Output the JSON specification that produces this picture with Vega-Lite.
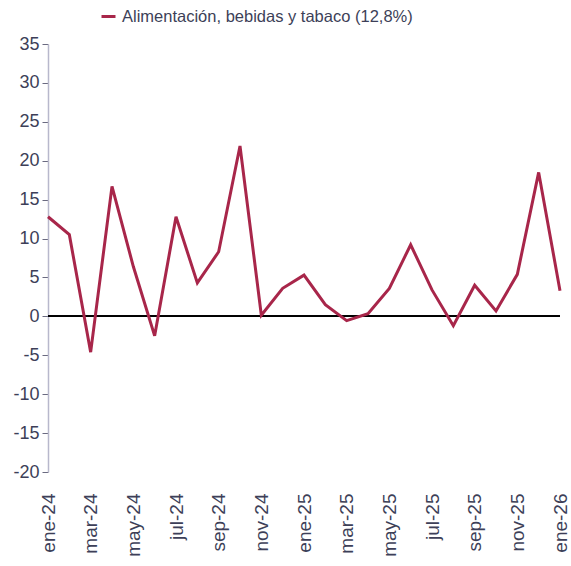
{
  "$schema": "https://vega.github.io/schema/vega-lite/v6.json",
  "width": 512,
  "height": 428,
  "autosize": {"type": "none"},
  "padding": {"left": 48, "top": 44, "right": 11, "bottom": 94},
  "background": "white",
  "config": {
    "view": {"stroke": null},
    "font": "Liberation Sans",
    "axisY": {
      "title": null,
      "values": [-20, -15, -10, -5, 0, 5, 10, 15, 20, 25, 30, 35],
      "labelExpr": "'' + datum.value",
      "labelFontSize": 18,
      "labelColor": "#3d3f58",
      "labelPadding": 3,
      "labelOverlap": false,
      "labelBound": false,
      "domainColor": "#b8b8cc",
      "domainWidth": 1.5,
      "tickColor": "#6a6a80",
      "tickSize": 6,
      "grid": false
    }
  },
  "data": {
    "values": [
      {"mes": "ene-24", "v": 12.8, "serie": "Alimentación, bebidas y tabaco (12,8%)"},
      {"mes": "feb-24", "v": 10.5, "serie": "Alimentación, bebidas y tabaco (12,8%)"},
      {"mes": "mar-24", "v": -4.6, "serie": "Alimentación, bebidas y tabaco (12,8%)"},
      {"mes": "abr-24", "v": 16.7, "serie": "Alimentación, bebidas y tabaco (12,8%)"},
      {"mes": "may-24", "v": 6.4, "serie": "Alimentación, bebidas y tabaco (12,8%)"},
      {"mes": "jun-24", "v": -2.5, "serie": "Alimentación, bebidas y tabaco (12,8%)"},
      {"mes": "jul-24", "v": 12.8, "serie": "Alimentación, bebidas y tabaco (12,8%)"},
      {"mes": "ago-24", "v": 4.3, "serie": "Alimentación, bebidas y tabaco (12,8%)"},
      {"mes": "sep-24", "v": 8.3, "serie": "Alimentación, bebidas y tabaco (12,8%)"},
      {"mes": "oct-24", "v": 21.9, "serie": "Alimentación, bebidas y tabaco (12,8%)"},
      {"mes": "nov-24", "v": 0.15, "serie": "Alimentación, bebidas y tabaco (12,8%)"},
      {"mes": "dic-24", "v": 3.6, "serie": "Alimentación, bebidas y tabaco (12,8%)"},
      {"mes": "ene-25", "v": 5.3, "serie": "Alimentación, bebidas y tabaco (12,8%)"},
      {"mes": "feb-25", "v": 1.5, "serie": "Alimentación, bebidas y tabaco (12,8%)"},
      {"mes": "mar-25", "v": -0.55, "serie": "Alimentación, bebidas y tabaco (12,8%)"},
      {"mes": "abr-25", "v": 0.35, "serie": "Alimentación, bebidas y tabaco (12,8%)"},
      {"mes": "may-25", "v": 3.6, "serie": "Alimentación, bebidas y tabaco (12,8%)"},
      {"mes": "jun-25", "v": 9.2, "serie": "Alimentación, bebidas y tabaco (12,8%)"},
      {"mes": "jul-25", "v": 3.4, "serie": "Alimentación, bebidas y tabaco (12,8%)"},
      {"mes": "ago-25", "v": -1.2, "serie": "Alimentación, bebidas y tabaco (12,8%)"},
      {"mes": "sep-25", "v": 4.0, "serie": "Alimentación, bebidas y tabaco (12,8%)"},
      {"mes": "oct-25", "v": 0.7, "serie": "Alimentación, bebidas y tabaco (12,8%)"},
      {"mes": "nov-25", "v": 5.4, "serie": "Alimentación, bebidas y tabaco (12,8%)"},
      {"mes": "dic-25", "v": 18.5, "serie": "Alimentación, bebidas y tabaco (12,8%)"},
      {"mes": "ene-26", "v": 3.3, "serie": "Alimentación, bebidas y tabaco (12,8%)"}
    ]
  },
  "layer": [
    {
      "mark": {"type": "rule", "color": "black", "strokeWidth": 1},
      "encoding": {"y": {"datum": 0, "type": "quantitative", "scale": {"domain": [-20, 35], "nice": false}, "axis": {"values": [-20, -15, -10, -5, 0, 5, 10, 15, 20, 25, 30, 35]}}}
    },
    {
      "mark": {"type": "line", "strokeWidth": 3, "strokeJoin": "miter"},
      "encoding": {
        "x": {
          "field": "mes",
          "type": "ordinal",
          "sort": null,
          "scale": {"type": "point", "padding": 0},
          "axis": {
            "title": null,
            "values": ["ene-24", "mar-24", "may-24", "jul-24", "sep-24", "nov-24", "ene-25", "mar-25", "may-25", "jul-25", "sep-25", "nov-25", "ene-26"],
            "labelAngle": -90,
            "labelFontSize": 19,
            "labelColor": "#3d3f58",
            "labelPadding": 21,
            "labelOverlap": false,
            "labelBound": false,
            "domain": false,
            "ticks": false,
            "grid": false
          }
        },
        "y": {
          "field": "v",
          "type": "quantitative",
          "scale": {"domain": [-20, 35], "nice": false, "zero": false},
          "axis": {"values": [-20, -15, -10, -5, 0, 5, 10, 15, 20, 25, 30, 35]}
        },
        "color": {
          "field": "serie",
          "type": "nominal",
          "scale": {"range": ["#a8264a"]},
          "legend": {
            "title": null,
            "orient": "none",
            "legendX": 52,
            "legendY": -36,
            "symbolType": "stroke",
            "symbolStrokeWidth": 3,
            "symbolSize": 196,
            "labelFontSize": 16.5,
            "labelLimit": 0,
            "labelColor": "#3d3f58",
            "labelOffset": 5
          }
        }
      }
    }
  ]
}
